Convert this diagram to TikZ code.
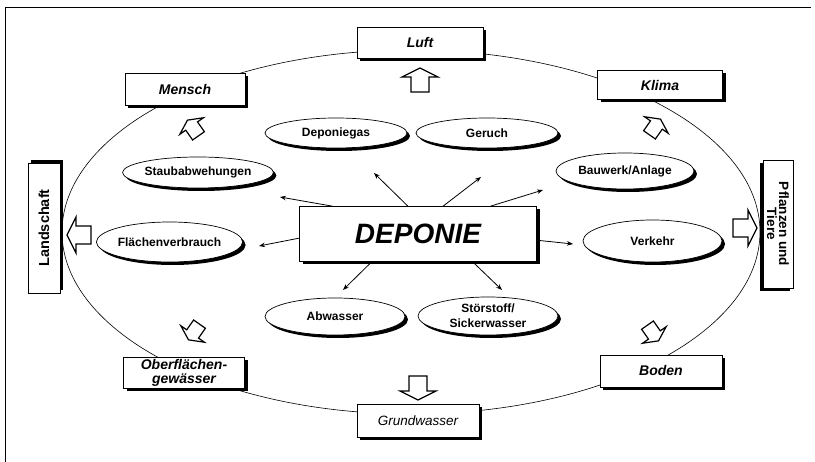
\documentclass[tikz,border=0pt]{standalone}
\usepackage{fontspec}
\setmainfont{Liberation Sans}
\usetikzlibrary{shapes.geometric,shadows,arrows.meta}
\begin{document}
\begin{tikzpicture}[x=1pt,y=-1pt,
  frameline/.style={line width=1pt},
  ring/.style={line width=0.6pt},
  boxbase/.style={draw, line width=0.7pt, fill=white, inner sep=0pt, align=center,
     font=\fontsize{14}{14}\selectfont\bfseries\itshape},
  shadowbr/.style={drop shadow={shadow xshift=3pt, shadow yshift=-3pt, opacity=1, fill=black}},
  sbox/.style={boxbase, shadowbr},
  oval/.style={ellipse, draw, line width=0.7pt, fill=white, inner sep=0pt, align=center,
     shadowbr, font=\fontsize{12}{15}\selectfont\bfseries},
  conn/.style={line width=0.8pt, -{Stealth[length=6pt,width=4.5pt]}},
  barrow/.pic={\draw[line width=1.2pt, fill=white, line join=miter]
     (0,-12)--(18,-3)--(9,-3)--(9,12)--(-9,12)--(-9,-3)--(-18,-3)--cycle;}
]
\useasboundingbox (0,0) rectangle (815,462);
% frame
\draw[frameline] (5,462) -- (5,8) -- (811,8);
% big ring
\draw[ring] (411,232) ellipse [x radius=349pt, y radius=182pt];

% outer boxes
\node[sbox, minimum width=126pt, minimum height=31pt] (luft) at (420,42.5) {Luft};
\node[sbox, minimum width=120pt, minimum height=32pt] (mensch) at (185,89) {Mensch};
\node[sbox, minimum width=125pt, minimum height=29pt] (klima) at (660,85) {Klima};
\node[sbox, minimum width=121pt, minimum height=31pt] (ober) at (184,373) {Oberflächen-\\gewässer};
\node[sbox, minimum width=122pt, minimum height=32pt] (boden) at (661,371) {Boden};
\node[sbox, minimum width=122pt, minimum height=33pt,
      font=\fontsize{13.5}{14}\selectfont\itshape] (grund) at (418,421) {Grundwasser};
\node[boxbase, rotate=90, minimum width=130pt, minimum height=32pt,
      drop shadow={shadow xshift=3pt, shadow yshift=3pt, opacity=1, fill=black},
      font=\fontsize{14.5}{14}\selectfont\bfseries] (land) at (44,228) {Landschaft};
\node[boxbase, rotate=-90, minimum width=128pt, minimum height=30pt,
      drop shadow={shadow xshift=-3pt, shadow yshift=-3pt, opacity=1, fill=black},
      font=\fontsize{13.5}{12}\selectfont\bfseries] (pflanz) at (778,224) {Pflanzen und\\Tiere};

% centre box
\node[sbox, minimum width=237pt, minimum height=55pt,
      font=\fontsize{28}{28}\selectfont\bfseries\itshape] (dep) at (418,234) {DEPONIE};

% inner ovals
\node[oval, minimum width=142pt, minimum height=30pt] (gas) at (336,133) {Deponiegas};
\node[oval, minimum width=142pt, minimum height=30pt] (geruch) at (487,133) {Geruch};
\node[oval, minimum width=138pt, minimum height=31pt] (staub) at (198,172.5) {Staubabwehungen};
\node[oval, minimum width=138pt, minimum height=36pt] (bau) at (625,171) {Bauwerk/Anlage};
\node[oval, minimum width=139pt, minimum height=40pt] (flae) at (169.5,242) {Flächenverbrauch};
\node[oval, minimum width=139pt, minimum height=42pt] (verk) at (652.5,241) {Verkehr};
\node[oval, minimum width=140pt, minimum height=37pt] (abw) at (335,316.5) {Abwasser};
\node[oval, minimum width=140pt, minimum height=38pt] (stoer) at (488,316) {Störstoff/\\Sickerwasser};

% arrow tips (free ends)
\coordinate (tStaub) at (280,197);
\coordinate (tGas) at (374,173);
\coordinate (tGeruch) at (481,177);
\coordinate (tBau) at (543,190);
\coordinate (tFlae) at (259,246);
\coordinate (tVerk) at (573,244);
\coordinate (tAbw) at (343,290);
\coordinate (tStoer) at (502,290);

\draw[conn] (dep.162) -- (tStaub);
\draw[conn] (dep.110) -- (tGas);
\draw[conn] (dep.48) -- (tGeruch);
\draw[conn] (dep.21) -- (tBau);
\draw[conn] (dep.182) -- (tFlae);
\draw[conn] (dep.357) -- (tVerk);
\draw[conn] (dep.211) -- (tAbw);
\draw[conn] (dep.333) -- (tStoer);

% block arrows
\pic[rotate=0] at (420,80) {barrow};
\pic[rotate=180] at (418,388) {barrow};
\pic[rotate=90] at (79,235) {barrow};
\pic[rotate=-90] at (745,228) {barrow};
\pic[rotate=35, scale=0.8] at (193,128) {barrow};
\pic[rotate=-35, scale=0.8] at (655,127) {barrow};
\pic[rotate=145, scale=0.8] at (194,332) {barrow};
\pic[rotate=-145, scale=0.8] at (653,333) {barrow};
\end{tikzpicture}
\end{document}
